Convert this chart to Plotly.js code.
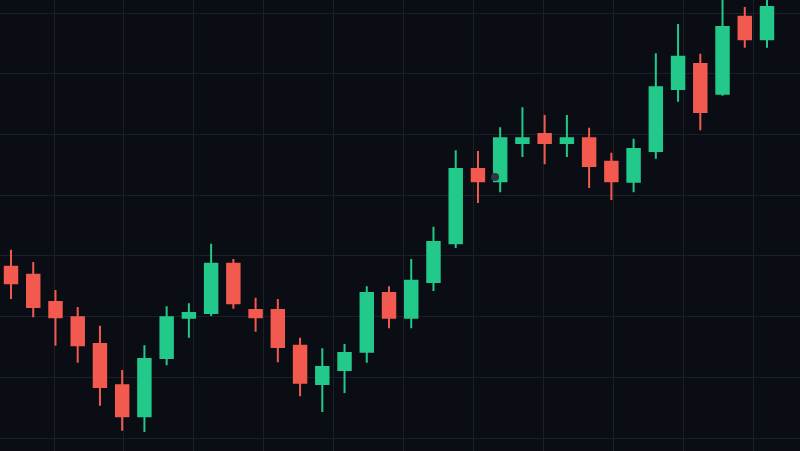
<!DOCTYPE html>
<html>
<head>
<meta charset="utf-8">
<script src="https://cdn.plot.ly/plotly-3.0.1.min.js"></script>
<style>
  html, body { margin: 0; padding: 0; background: #0a0d13; }
  #chart { width: 800px; height: 451px; }
</style>
</head>
<body>
<div id="chart"></div>
<script>
// Session index (one candle per period)
const periods = [0,1,2,3,4,5,6,7,8,9,10,11,12,13,14,15,16,17,18,19,20,21,22,23,24,25,26,27,28,29,30,31,32,33,34];

const openPrices  = [128.2,126.9,122.4,119.9,115.5,108.7,103.6,113.2,119.8,120.6,128.7,121.1,121.1,115.2,108.9,111.2,114.2,123.9,119.8,125.7,132.1,144.3,142.3,148.6,150.1,148.6,149.4,145.5,142.2,147.3,157.5,161.6,156.7,169.4,165.7];
const highPrices  = [131.0,129.0,124.4,121.6,118.5,111.2,115.3,121.7,122.2,132.0,129.5,123.1,122.9,116.5,114.8,115.5,125.0,125.0,129.5,134.8,147.4,147.3,151.2,154.5,153.2,153.2,151.1,147.0,149.3,163.4,168.2,163.3,173.5,171.0,173.0];
const lowPrices   = [122.9,119.9,115.2,112.4,105.3,101.2,101.0,112.0,116.5,120.1,121.3,117.5,112.5,106.9,104.3,107.4,112.4,118.1,118.1,124.2,131.3,138.7,140.5,146.3,145.1,146.3,141.2,139.2,140.5,146.0,155.4,150.7,156.4,164.3,164.3];
const closePrices = [125.5,121.6,119.9,115.3,108.4,103.6,113.0,119.9,120.6,128.7,122.2,119.9,115.0,109.1,111.7,114.0,123.9,119.8,125.9,132.3,144.3,142.3,149.4,149.4,148.6,149.4,144.8,142.3,147.6,157.8,162.8,153.7,167.7,165.7,171.0];

// faint cursor dot
const cursorX = [21.77];
const cursorY = [143.0];

const UP = '#22c98a';
const DOWN = '#f25a50';

const traces = [
  {
    type: 'candlestick',
    x: periods,
    open: openPrices,
    high: highPrices,
    low: lowPrices,
    close: closePrices,
    whiskerwidth: 0,
    increasing: { line: { color: UP, width: 2 }, fillcolor: UP },
    decreasing: { line: { color: DOWN, width: 2 }, fillcolor: DOWN },
    hoverinfo: 'none',
    showlegend: false
  },
  {
    type: 'scatter',
    mode: 'markers',
    x: cursorX,
    y: cursorY,
    marker: { size: 8, color: '#30353f' },
    hoverinfo: 'none',
    showlegend: false
  }
];

const layout = {
  width: 800,
  height: 451,
  margin: { l: 0, r: 0, t: 0, b: 0, pad: 0 },
  paper_bgcolor: '#0a0d13',
  plot_bgcolor: '#0a0d13',
  showlegend: false,
  boxgap: 0.2,
  xaxis: {
    type: 'linear',
    range: [-0.495, 35.484],
    showgrid: true,
    gridcolor: '#1b1f27',
    gridwidth: 1,
    tick0: 1.934,
    dtick: 3.144,
    showticklabels: false,
    zeroline: false,
    showline: false,
    ticks: '',
    rangeslider: { visible: false },
    fixedrange: true
  },
  yaxis: {
    range: [97.86, 172.16],
    showgrid: true,
    gridcolor: '#1b1f27',
    gridwidth: 1,
    tick0: 100,
    dtick: 10,
    showticklabels: false,
    zeroline: false,
    showline: false,
    ticks: '',
    fixedrange: true
  }
};

Plotly.newPlot('chart', traces, layout, { displayModeBar: false, staticPlot: true });
</script>
</body>
</html>
